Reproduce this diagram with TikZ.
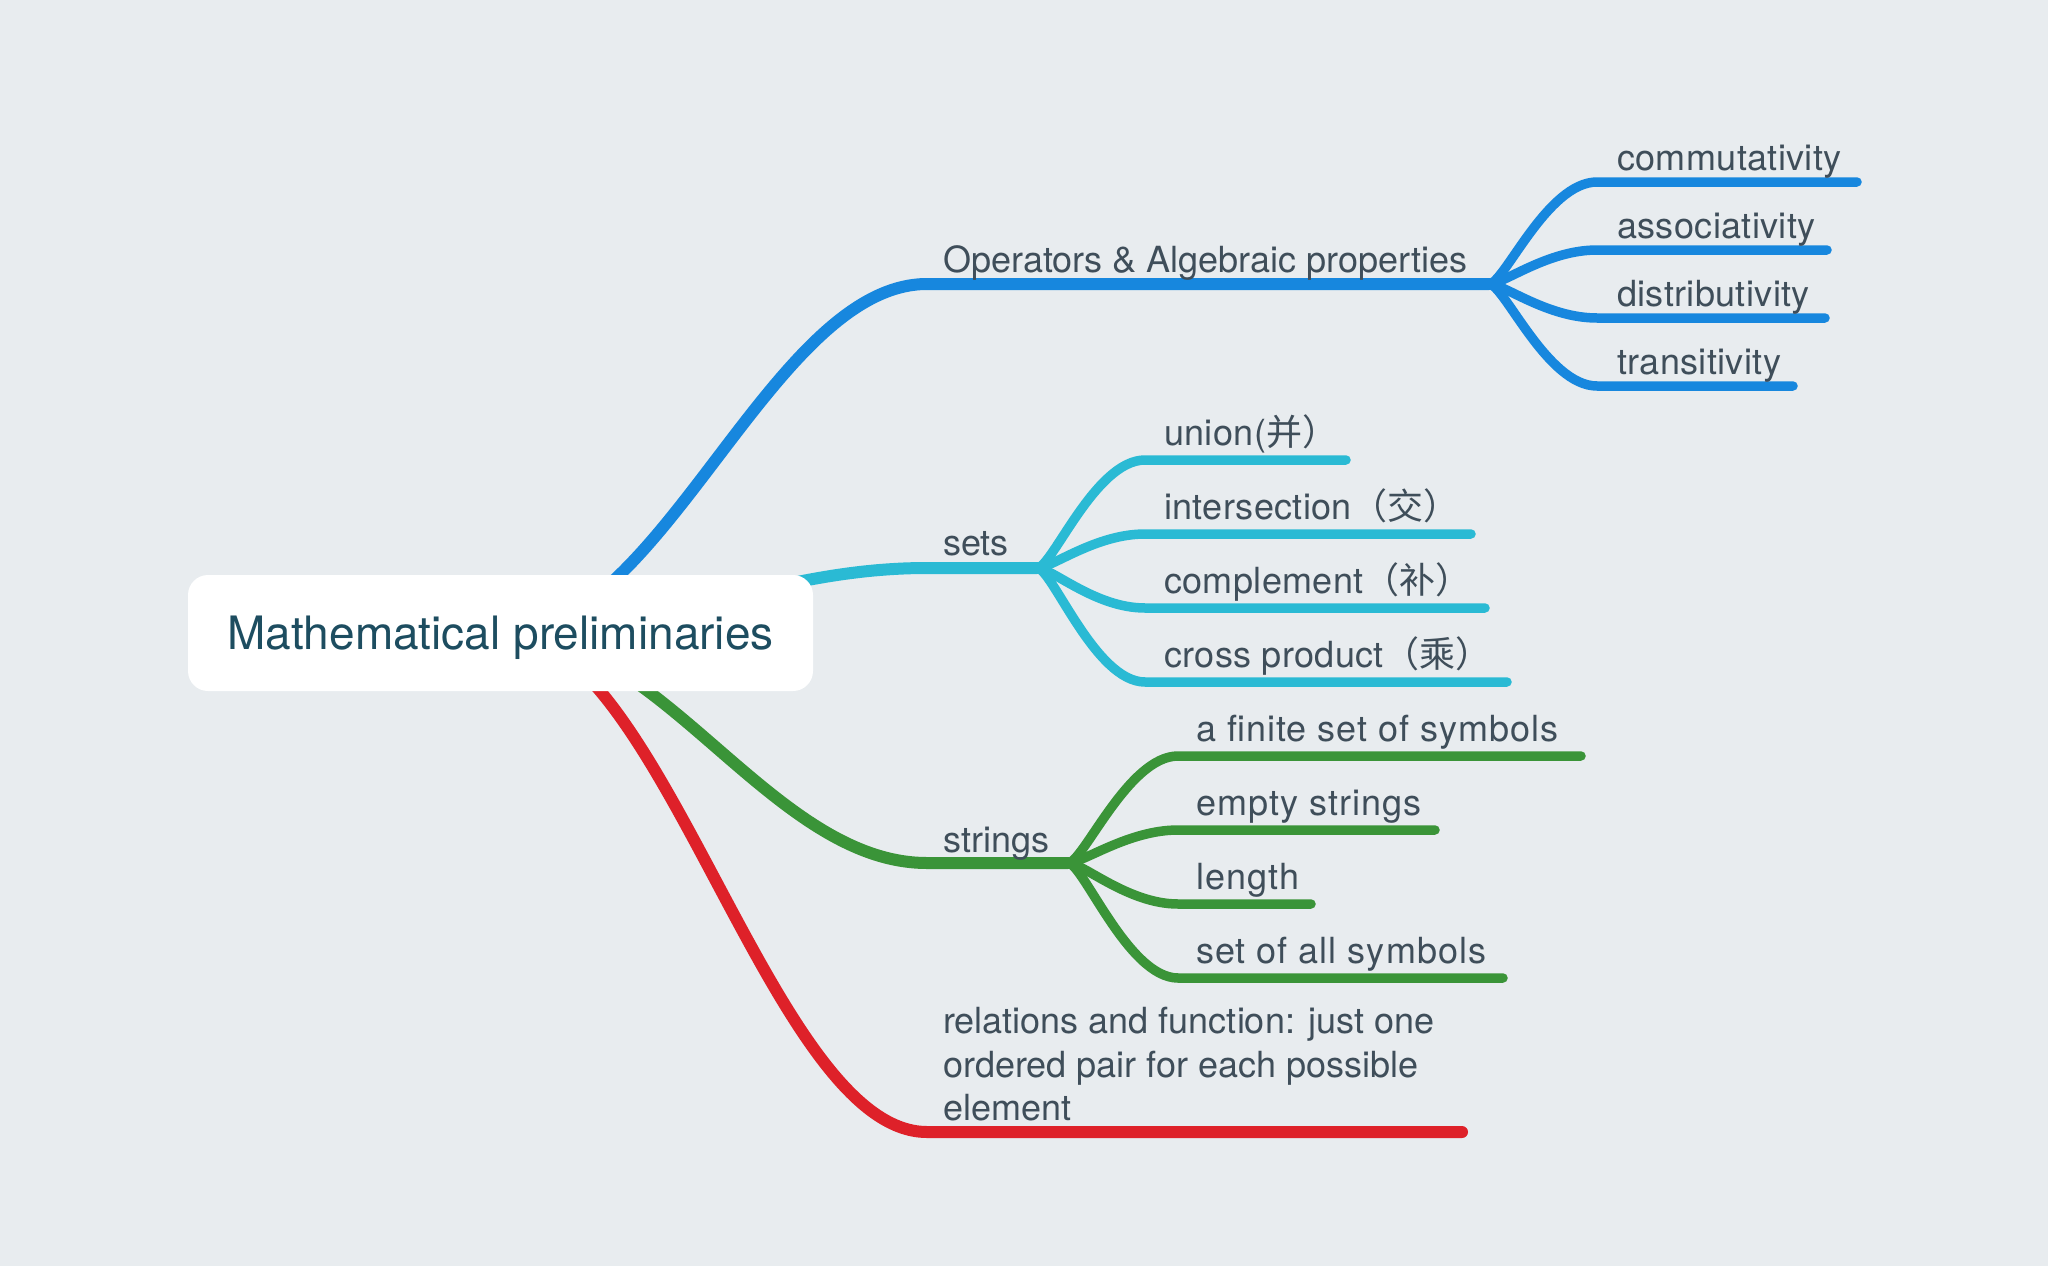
\documentclass[tikz,border=0pt]{standalone}
\usepackage{fontspec}
\setmainfont{TeX Gyre Heros}
\newfontfamily\widefont[LetterSpace=2.8]{TeX Gyre Heros}
\newfontfamily\semifont[LetterSpace=1.0]{TeX Gyre Heros}
\newfontfamily\cjk{Noto Sans CJK SC}
\usetikzlibrary{backgrounds}
\definecolor{bgc}{HTML}{E8ECEF}
\definecolor{cblue}{HTML}{1787DE}
\definecolor{ccyan}{HTML}{2ABAD4}
\definecolor{cgreen}{HTML}{3A9438}
\definecolor{cred}{HTML}{DE2129}
\definecolor{ctext}{HTML}{3F4E5A}
\definecolor{croot}{HTML}{1D4D60}
\begin{document}
\begin{tikzpicture}[x=1pt,y=-1pt,
  mainline/.style={line width=12pt, line cap=round, line join=round},
  subline/.style={line width=9.5pt, line cap=round, line join=round},
  lbl/.style={anchor=base west, inner sep=0pt, text=ctext, font=\fontsize{36}{43.5}\selectfont},
  sublbl/.style={lbl, font=\fontsize{36}{43.5}\semifont},
  widelbl/.style={lbl, font=\fontsize{36}{43.5}\widefont},
  rootbox/.style={fill=white, rounded corners=20pt, minimum width=625pt, minimum height=116pt,
    inner sep=0pt, text height=33pt, text depth=0pt, text=croot, font=\fontsize{46}{55}\selectfont}]
\useasboundingbox (0,0) rectangle (2048,1266);

% root topic
\node[rootbox] (root) at (500.5,633) {Mathematical preliminaries};
\coordinate (rootS) at ([xshift=6pt]root.center);

% main labels
\node[lbl] (ops) at (943,272) {Operators \& Algebraic properties};
\node[lbl] (sets) at (943,555) {sets};
\node[lbl] (strings) at (943,852) {strings};
\node[lbl] (rel) at (943,1033.5) {\begin{tabular}[t]{@{}l@{}}relations and function: just one\\ordered pair for each possible\\element\end{tabular}};

% blue sub labels
\node[sublbl] (com) at (1617,170.5) {commutativity};
\node[sublbl] (ass) at (1617,238.5) {associativity};
\node[sublbl] (dis) at (1617,306.5) {distributivity};
\node[sublbl] (tra) at (1617,374.5) {transitivity};

% cyan sub labels
\node[sublbl] (uni) at (1164,445) {union({\cjk 并）}};
\node[sublbl] (int) at (1164,519) {intersection{\cjk （交）}};
\node[sublbl] (cmp) at (1164,593) {complement{\cjk （补）}};
\node[sublbl] (cro) at (1164,667) {cross product{\cjk （乘）}};

% green sub labels
\node[widelbl] (fin) at (1196,741) {a finite set of symbols};
\node[widelbl] (emp) at (1196,815) {empty strings};
\node[widelbl] (len) at (1196,889) {length};
\node[widelbl] (all) at (1196,963) {set of all symbols};

% branch coordinates
\coordinate (opsS) at (927,284);  \coordinate (opsJ) at (1489,284);
\coordinate (setsS) at (927,568); \coordinate (setsJ) at (1037,568);
\coordinate (strS) at (927,863);  \coordinate (strJ) at (1068,863);
\coordinate (relS) at (927,1132); \coordinate (relE) at (1462,1132);

\coordinate (comS) at (1597,182); \coordinate (comE) at (1857,182);
\coordinate (assS) at (1597,250); \coordinate (assE) at (1827,250);
\coordinate (disS) at (1597,318); \coordinate (disE) at (1825,318);
\coordinate (traS) at (1597,386); \coordinate (traE) at (1793,386);

\coordinate (uniS) at (1145,460); \coordinate (uniE) at (1346,460);
\coordinate (intS) at (1145,534); \coordinate (intE) at (1471,534);
\coordinate (cmpS) at (1145,608); \coordinate (cmpE) at (1485,608);
\coordinate (croS) at (1145,682); \coordinate (croE) at (1507,682);

\coordinate (finS) at (1178,756); \coordinate (finE) at (1581,756);
\coordinate (empS) at (1178,830); \coordinate (empE) at (1435,830);
\coordinate (lenS) at (1178,904); \coordinate (lenE) at (1311,904);
\coordinate (allS) at (1178,978); \coordinate (allE) at (1503,978);

\begin{scope}[on background layer]
\fill[bgc] (0,0) rectangle (2048,1266);
% main branches
\draw[mainline, cblue] (rootS) .. controls +(155,0) and +(-155,0) .. (opsS) -- (opsJ);
\draw[mainline, ccyan] (rootS) .. controls +(155,0) and +(-155,0) .. (setsS) -- (setsJ);
\draw[mainline, cgreen] (rootS) .. controls +(155,0) and +(-155,0) .. (strS) -- (strJ);
\draw[mainline, cred] (rootS) .. controls +(155,0) and +(-155,0) .. (relS) -- (relE);
% sub branches
\foreach \s in {com,ass,dis,tra}
  \draw[subline, cblue] (opsJ) .. controls +(15,0) and +(-50,0) .. (\s S) -- (\s E);
\foreach \s in {uni,int,cmp,cro}
  \draw[subline, ccyan] (setsJ) .. controls +(15,0) and +(-50,0) .. (\s S) -- (\s E);
\foreach \s in {fin,emp,len,all}
  \draw[subline, cgreen] (strJ) .. controls +(15,0) and +(-50,0) .. (\s S) -- (\s E);
\end{scope}
\end{tikzpicture}
\end{document}
